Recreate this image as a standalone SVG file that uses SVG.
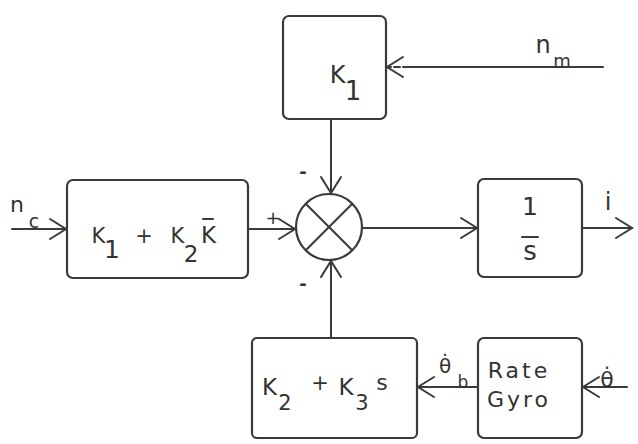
<svg xmlns="http://www.w3.org/2000/svg" width="638" height="444" viewBox="0 0 638 444">
<defs>
<style>
.ln{stroke:#3a3a3a;stroke-width:2;fill:none;stroke-linecap:round}
.bx{stroke:#3a3a3a;stroke-width:2.2;fill:none}
.t{font-family:"DejaVu Sans","Liberation Sans",sans-serif;fill:#333;text-anchor:middle}
.sign{font-family:"DejaVu Sans",sans-serif;fill:#333;font-size:18px;font-weight:bold;text-anchor:middle}
</style>
<marker id="ah" markerUnits="userSpaceOnUse" markerWidth="30" markerHeight="30" refX="0" refY="0" viewBox="-20 -15 25 30" orient="auto" overflow="visible">
<path d="M-16,-10 L0,0 L-16,10" fill="none" stroke="#3a3a3a" stroke-width="2" stroke-linecap="round"/>
</marker>
</defs>
<rect width="638" height="444" fill="#ffffff"/>

<g id="connectors">
<line class="ln" x1="12" y1="229" x2="66" y2="229" marker-end="url(#ah)"/>
<line class="ln" x1="249" y1="229" x2="295" y2="229" marker-end="url(#ah)"/>
<line class="ln" x1="603" y1="67" x2="387" y2="67" marker-end="url(#ah)" stroke-dasharray="200 3 6 3 6 3"/>
<line class="ln" x1="331" y1="120" x2="331" y2="193" marker-end="url(#ah)"/>
<line class="ln" x1="331" y1="337" x2="331" y2="261" marker-end="url(#ah)"/>
<line class="ln" x1="363" y1="228" x2="477" y2="228" marker-end="url(#ah)"/>
<line class="ln" x1="583" y1="228" x2="632" y2="228" marker-end="url(#ah)"/>
<line class="ln" x1="478" y1="387" x2="418" y2="387" marker-end="url(#ah)"/>
<line class="ln" x1="627" y1="387" x2="583" y2="387" marker-end="url(#ah)"/>
</g>

<g id="sum">
<circle class="bx" cx="329" cy="227" r="33"/>
<line class="ln" x1="306" y1="204" x2="352" y2="250" stroke-width="1.5"/>
<line class="ln" x1="352" y1="204" x2="306" y2="250"/>
<text class="sign" x="303" y="178">-</text>
<text class="sign" x="303" y="290">-</text>
<text class="t" x="273" y="224" font-size="18">+</text>
</g>

<g id="input-nc">
<text class="t" x="17" y="212" font-size="22">n</text>
<text class="t" x="34" y="228" font-size="19">c</text>
</g>

<g id="box-k1k2">
<rect class="bx" x="67" y="180" width="181" height="98" rx="6"/>
<text class="t" x="98.5" y="243" font-size="21">K</text>
<text class="t" x="112" y="258" font-size="25">1</text>
<text class="t" x="144" y="243" font-size="21">+</text>
<text class="t" x="177.5" y="243" font-size="21">K</text>
<text class="t" x="191" y="262" font-size="23">2</text>
<text class="t" x="208.5" y="243" font-size="23">K</text>
<line class="ln" x1="203" y1="219" x2="213" y2="219"/>
</g>

<g id="box-k1">
<rect class="bx" x="283" y="16" width="103" height="103" rx="6"/>
<text class="t" x="337.5" y="83" font-size="24">K</text>
<text class="t" x="353" y="100" font-size="26">1</text>
</g>

<g id="input-nm">
<text class="t" x="543" y="53" font-size="24">n</text>
<text class="t" x="562" y="67" font-size="18">m</text>
</g>

<g id="box-integrator">
<rect class="bx" x="478" y="179" width="104" height="98" rx="6"/>
<text class="t" x="530" y="215" font-size="25">1</text>
<line class="ln" x1="522" y1="237" x2="538" y2="237"/>
<text class="t" x="530" y="260" font-size="26">s</text>
</g>

<g id="output-i">
<text class="t" x="608" y="210" font-size="24">i</text>
</g>

<g id="box-k2k3s">
<rect class="bx" x="252" y="338" width="165" height="100" rx="5"/>
<text class="t" x="269.5" y="395" font-size="23">K</text>
<text class="t" x="285" y="410" font-size="21">2</text>
<text class="t" x="320" y="390" font-size="21">+</text>
<text class="t" x="346" y="395" font-size="23">K</text>
<text class="t" x="362" y="410" font-size="21">3</text>
<text class="t" x="382" y="390" font-size="22">s</text>
</g>

<g id="label-theta-b">
<text class="t" x="445" y="373" font-size="20">θ̇</text>
<text class="t" x="463" y="388" font-size="17">b</text>
</g>

<g id="box-rategyro">
<rect class="bx" x="478" y="338" width="104" height="100" rx="6"/>
<text class="t" x="519" y="378" font-size="22" letter-spacing="3">Rate</text>
<text class="t" x="519" y="407" font-size="22" letter-spacing="3">Gyro</text>
</g>

<g id="input-theta">
<text class="t" x="607" y="387" font-size="22">θ̇</text>
</g>
</svg>
